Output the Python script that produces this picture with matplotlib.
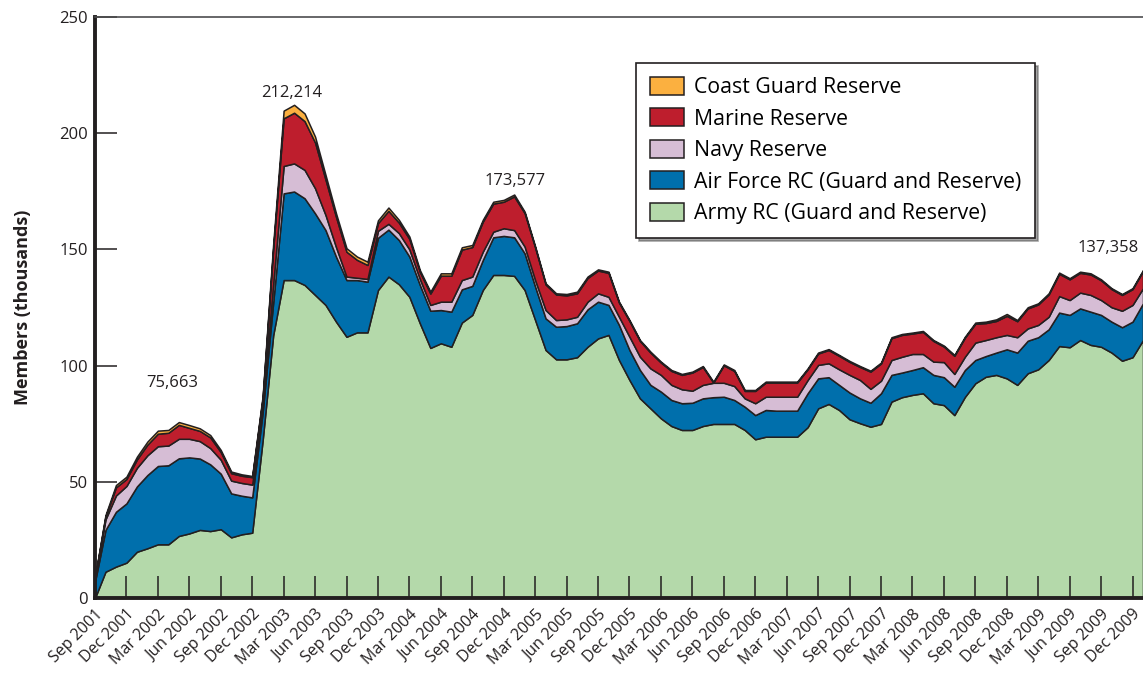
import numpy as np
import pandas as pd
import matplotlib
matplotlib.use("Agg")
import matplotlib.pyplot as plt

plt.rcParams['font.family'] = ['Open Sans', 'DejaVu Sans']

# monthly values, thousands of members, Sep 2001 .. Jan 2010
army = [0, 11.3, 13.5, 15.2, 19.9, 21.4, 23.1, 23.1, 26.7, 27.8,
        29.3, 28.8, 29.6, 26.1, 27.4, 28.1, 68, 113, 136.8, 136.8,
        134.7, 130.4, 126.1, 118.9, 112.4, 114.3, 114.3, 132.5, 138.3, 135,
        129.6, 118.2, 107.6, 109.6, 108.1, 118.5, 121.8, 132.5, 139, 139,
        138.6, 132.5, 119.6, 106.7, 102.7, 102.7, 103.6, 108.1, 111.7, 113.2,
        102.4, 93.8, 85.9, 81.6, 77.3, 74, 72.3, 72.3, 74, 74.9,
        74.9, 74.9, 72.3, 68.3, 69.4, 69.4, 69.4, 69.4, 73.5, 81.6,
        83.5, 80.9, 76.9, 75.2, 73.7, 74.9, 84.5, 86.4, 87.4, 88.1,
        83.8, 83, 78.7, 86.5, 92.4, 95.2, 96, 94.5, 91.7, 96.7,
        98.4, 102.4, 108.4, 107.9, 111, 108.9, 108.1, 105.6, 102.1, 103.6,
        111]
air_force = [7, 18.0, 23.6, 25.5, 28.1, 31.5, 33.7, 34.0, 33.4, 32.7,
             30.7, 28.7, 23.9, 18.9, 16.6, 15.2, 12, 14, 37.3, 38.1,
             37.3, 35.1, 32.2, 28.0, 24.4, 22.5, 21.8, 22.5, 20.2, 19.0,
             17.3, 16.5, 16.0, 14.3, 15.1, 14.3, 12.5, 12.9, 16.2, 16.8,
             16.6, 15.8, 14.4, 13.6, 14.0, 14.3, 14.6, 16.1, 15.8, 12.9,
             15.1, 12.9, 12.2, 10.1, 11.5, 11.2, 11.5, 11.7, 11.9, 11.5,
             11.7, 10.3, 10.0, 10.4, 11.5, 11.2, 11.2, 11.2, 14.6, 12.9,
             11.5, 10.8, 11.5, 10.7, 10.3, 13.2, 11.5, 10.6, 10.7, 11.2,
             12.2, 12.0, 12.2, 11.6, 10.0, 8.9, 9.6, 12.5, 13.9, 14.0,
             13.8, 13.2, 14.4, 13.9, 13.6, 14.3, 13.7, 13.3, 14.4, 15.3,
             15.8]
navy = [1.5, 4.5, 7.0, 7.5, 8.0, 8.5, 8.5, 8.5, 8.4, 8.0,
        7.5, 7.0, 6.0, 5.5, 5.5, 5.5, 3, 8, 11.8, 12.1,
        12.2, 10.8, 6.5, 4.1, 1.5, 1.0, 1.2, 3.0, 2.5, 3.0,
        3.1, 2.6, 2.5, 3.6, 4.3, 4.0, 4.0, 3.6, 2.4, 3.3,
        3.1, 2.9, 2.8, 3.6, 2.9, 2.9, 2.8, 3.3, 3.6, 3.5,
        3.5, 5.7, 5.7, 7.1, 7.2, 6.5, 6.0, 5.2, 5.8, 6.2,
        6.0, 6.0, 3.6, 5.1, 5.7, 6.0, 6.0, 6.0, 5.7, 5.8,
        6.0, 6.7, 7.6, 7.9, 6.0, 5.4, 6.4, 6.8, 6.9, 5.7,
        5.7, 6.5, 5.5, 5.7, 7.5, 6.9, 6.6, 6.2, 6.6, 5.3,
        5.3, 5.4, 7.1, 6.4, 6.8, 7.2, 6.4, 6.2, 7.1, 7.2,
        6.5]
marine = [0.3, 1.2, 3.5, 3.0, 3.6, 4.6, 5.4, 5.5, 6.0, 4.7,
          4.4, 4.6, 3.3, 3.2, 3.1, 3.2, 3, 15, 20.5, 21.8,
          21.0, 19.7, 15.2, 13.0, 10.7, 7.7, 6.0, 3.3, 5.6, 4.5,
          4.5, 3.0, 4.9, 11.2, 11.2, 13.1, 12.7, 12.9, 12.1, 11.4,
          14.5, 14.4, 14.0, 11.0, 11.0, 10.3, 10.1, 10.2, 9.8, 10.3,
          6.1, 6.8, 6.8, 6.8, 5.3, 6.0, 6.2, 7.8, 7.7, 0.1,
          7.5, 6.5, 3.2, 5.3, 6.1, 6.1, 6.1, 6.1, 4.6, 4.9,
          5.7, 5.8, 5.6, 5.6, 7.4, 7.4, 9.4, 9.4, 8.8, 9.5,
          8.9, 6.7, 7.8, 8.2, 8.1, 7.3, 7.0, 8.2, 6.9, 8.6,
          8.8, 9.6, 9.6, 8.9, 8.5, 8.8, 8.5, 7.8, 6.8, 6.8,
          7.4]
coast_guard = [0.2, 0.7, 1.0, 1.0, 1.2, 1.3, 1.3, 1.2, 1.2, 1.2,
               1.1, 1.0, 0.9, 0.7, 0.6, 0.5, 1, 2, 3.3, 3.4,
               3.3, 2.5, 2.0, 1.5, 1.5, 1.4, 1.4, 1.2, 1.4, 1.2,
               1.0, 0.8, 0.8, 1.0, 1.0, 1.0, 0.9, 0.8, 0.8, 0.8,
               0.8, 0.6, 0.5, 0.5, 0.5, 0.6, 0.7, 0.6, 0.5, 0.5,
               0.4, 0.4, 0.4, 0.4, 0.4, 0.4, 0.4, 0.4, 0.4, 0.4,
               0.4, 0.4, 0.4, 0.4, 0.4, 0.4, 0.4, 0.4, 0.4, 0.4,
               0.4, 0.4, 0.4, 0.4, 0.4, 0.4, 0.4, 0.4, 0.4, 0.4,
               0.4, 0.4, 0.4, 0.4, 0.5, 0.6, 0.7, 0.8, 0.5, 0.5,
               0.5, 0.5, 0.5, 0.5, 0.5, 0.5, 0.4, 0.4, 0.4, 0.4,
               0.4]

series_names = ['Army RC (Guard and Reserve)', 'Air Force RC (Guard and Reserve)',
                'Navy Reserve', 'Marine Reserve', 'Coast Guard Reserve']
colors = ['#b4d9aa', '#006fac', '#d6bdd5', '#be1e2d', '#fbb040']

months = np.arange(len(army))
tick_months = months[::3][:34]
tick_labels = [d.strftime('%b %Y') for d in pd.date_range('2001-09-01', '2009-12-01', freq='3MS')]

peak_labels = ['75,663', '212,214', '173,577', '137,358']
peak_pos = [(7.35, 92.5), (18.8, 217.5), (40.1, 179.5), (96.7, 150.5)]

fig = plt.figure(figsize=(11.43, 6.76), dpi=100)
ax = fig.add_axes([0.0831, 0.1154, 0.9169, 0.8595])

polys = ax.stackplot(months, army, air_force, navy, marine, coast_guard,
                     colors=colors, labels=series_names,
                     edgecolor='#231f20', linewidth=1.1)

ax.set_xlim(0, 100)
ax.set_ylim(0, 250)
ax.set_yticks(np.arange(0, 251, 50))
ax.set_xticks(tick_months)
ax.set_xticklabels(tick_labels, rotation=45, ha='right', rotation_mode='anchor')

ax.tick_params(axis='both', direction='in', length=16, width=1.1, color='#231f20',
               labelsize=12, labelcolor='#231f20')
ax.tick_params(axis='x', pad=6, labelsize=11.5)
ax.tick_params(axis='y', pad=5)

for s in ['left', 'bottom']:
    ax.spines[s].set_linewidth(2.8)
    ax.spines[s].set_color('#231f20')
ax.spines['top'].set_linewidth(1.2)
ax.spines['top'].set_color('#4d4d4f')
ax.spines['right'].set_visible(False)

ax.set_ylabel('Members (thousands)', fontsize=13, fontweight='bold',
              color='#231f20', labelpad=20)

for txt, (x, y) in zip(peak_labels, peak_pos):
    ax.text(x, y, txt, ha='center', va='center', fontsize=12, color='#231f20')

handles, labels = ax.get_legend_handles_labels()
leg = ax.legend(handles[::-1], labels[::-1], loc='upper left',
                bbox_to_anchor=(0.516, 0.921), borderaxespad=0,
                fontsize=15.3, frameon=True, fancybox=False, shadow=True,
                edgecolor='#231f20', framealpha=1, borderpad=0.65,
                labelspacing=0.47, handlelength=1.6, handleheight=0.95,
                handletextpad=0.5)
leg.get_frame().set_linewidth(1.2)

fig.savefig('out.png', dpi=100)
